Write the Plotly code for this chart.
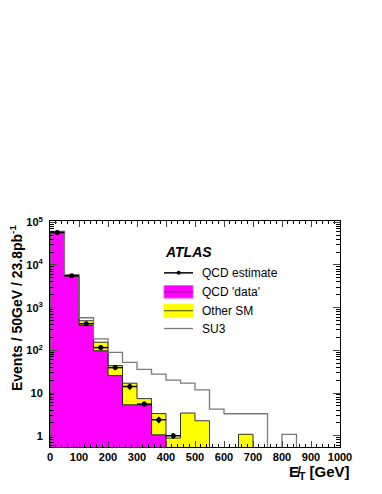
import plotly.graph_objects as go

# 50 GeV bins, 0-1000 GeV
bin_edges = list(range(0, 1001, 50))
bin_centers = [e + 25 for e in bin_edges[:-1]]

# QCD 'data' (magenta fill)
qcd_data = [57000, 5560, 386, 98, 25.6, 5.3, 5.3, 1.05, 0, 0,
            0, 0, 0, 0, 0, 0, 0, 0, 0, 0]
# top of the QCD + Other SM stack (yellow fill)
other_sm_stack = [57000, 5560, 494, 155, 44, 17, 7.4, 3.3, 0.88, 3.4,
                  2.24, 0, 0, 1.08, 0, 0, 0, 0, 0, 0]
# SU3 stacked on top (grey line)
su3_stack = [61000, 5900, 580, 185, 90, 52, 36, 27.6, 20, 17,
             11.9, 4.2, 3.27, 3.27, 3.27, 0, 1.08, 0, 0, 0]
# QCD estimate points and errors (first 9 bins)
est_x = bin_centers[:9]
est_y = [58000, 5600, 421, 116, 39.4, 14.2, 5.5, 2.37, 1.0]
est_err = [240, 75, 20, 10, 5, 2.3, 0.8, 0.4, 0.15]

y_ticks = [1, 10, 100, 1000, 10000, 100000]
y_ticktext = ["1", "10", "10<sup>2</sup>", "10<sup>3</sup>", "10<sup>4</sup>", "10<sup>5</sup>"]
x_ticks = list(range(0, 1001, 100))

FLOOR = 1e-2
FONT = "Liberation Sans, Arial, sans-serif"


def step_xy(values):
    """Histogram outline as an hv step path that drops to the floor at the ends."""
    xs = [bin_edges[0]] + bin_edges
    ys = [FLOOR] + [v if v > 0 else FLOOR for v in values] + [FLOOR]
    return xs, ys


fig = go.Figure()

fig.add_trace(go.Bar(x=bin_centers, y=[v if v > 0 else None for v in other_sm_stack],
                     width=50, marker=dict(color="#ffff00", line=dict(width=0))))
fig.add_trace(go.Bar(x=bin_centers, y=[v if v > 0 else None for v in qcd_data],
                     width=50, marker=dict(color="#ff00ff", line=dict(width=0))))

for vals, col, w in [(other_sm_stack, "#333333", 1), (qcd_data, "#222222", 1),
                     (su3_stack, "#7a7a7a", 1.3)]:
    sx, sy = step_xy(vals)
    fig.add_trace(go.Scatter(x=sx, y=sy, mode="lines", line_shape="hv",
                             line=dict(color=col, width=w)))

fig.add_trace(go.Scatter(
    x=est_x, y=est_y, mode="markers",
    marker=dict(color="black", size=5),
    error_x=dict(type="constant", value=25, color="black", thickness=1.5, width=0),
    error_y=dict(type="data", array=est_err, color="black", thickness=1.5, width=0),
))

minor_y = [m * 10 ** k for k in range(-1, 6) for m in range(2, 10)]

# page body has an 8px margin, so the figure is 8px smaller and shifted
fig.update_layout(
    width=374, height=486,
    margin=dict(l=42, r=42, t=213, b=47),
    paper_bgcolor="white", plot_bgcolor="white",
    barmode="overlay", bargap=0, showlegend=False,
    font=dict(family=FONT, color="black"),
)
fig.update_xaxes(
    range=[0, 1000], tickvals=x_ticks, ticks="inside", ticklen=6,
    showgrid=False, zeroline=False, showline=True, linecolor="black",
    linewidth=1, mirror="allticks",
    tickfont=dict(size=11, weight="bold"),
    minor=dict(ticks="inside", dtick=20, ticklen=3, tickcolor="black"),
)
fig.update_yaxes(
    type="log", range=[-0.264, 5.03], tickvals=y_ticks, ticktext=y_ticktext,
    ticks="inside", ticklen=7, showgrid=False, zeroline=False, showline=True,
    linecolor="black", linewidth=1, mirror="allticks", ticklabelstandoff=4,
    tickfont=dict(size=11, weight="bold"),
    minor=dict(ticks="inside", tickvals=minor_y, ticklen=4, tickcolor="black"),
)

# page pixel -> paper helpers
def px(x):
    return (x - 50) / 290.0


def py(y):
    return (447.3 - y) / 226.6


fig.add_annotation(text="<b>Events / 50GeV / 23.8pb<sup>-1</sup></b>", textangle=-90,
                   x=px(5), y=py(308), xref="paper", yref="paper",
                   showarrow=False, font=dict(size=14))
fig.add_annotation(text="<b>E\u0338<sub>T</sub> [GeV]</b>", x=px(287), y=py(473),
                   xref="paper", yref="paper", xanchor="left", yanchor="middle",
                   showarrow=False, font=dict(size=15))
fig.add_annotation(text="<b><i>ATLAS</i></b>", x=px(163), y=py(252),
                   xref="paper", yref="paper", xanchor="left", yanchor="middle",
                   showarrow=False, font=dict(size=14))

# legend drawn by hand, ROOT style
legend_rows = [("QCD estimate", 272.7), ("QCD 'data'", 291.7),
               ("Other SM", 310.7), ("SU3", 328.5)]
for label, yy in legend_rows:
    fig.add_annotation(text=label, x=px(200), y=py(yy), xref="paper", yref="paper",
                       xanchor="left", yanchor="middle", showarrow=False,
                       font=dict(size=12))

x0, x1 = px(164), px(193)
# QCD estimate: line + dot
fig.add_shape(type="line", xref="paper", yref="paper", x0=x0, x1=x1,
              y0=py(272.7), y1=py(272.7), line=dict(color="black", width=1.5))
fig.add_shape(type="circle", xref="paper", yref="paper",
              x0=px(176.7), x1=px(180.7), y0=py(274.7), y1=py(270.7),
              fillcolor="black", line=dict(width=0))
# QCD 'data': magenta box
fig.add_shape(type="rect", xref="paper", yref="paper", x0=x0, x1=x1,
              y0=py(298), y1=py(285.4), fillcolor="#ff00ff",
              line=dict(color="#ff55ff", width=1))
fig.add_shape(type="line", xref="paper", yref="paper", x0=x0, x1=x1,
              y0=py(291.7), y1=py(291.7), line=dict(color="#662266", width=1))
# Other SM: yellow box
fig.add_shape(type="rect", xref="paper", yref="paper", x0=x0, x1=x1,
              y0=py(317.3), y1=py(304.2), fillcolor="#ffff00",
              line=dict(color="#ffff00", width=1))
fig.add_shape(type="line", xref="paper", yref="paper", x0=x0, x1=x1,
              y0=py(310.7), y1=py(310.7), line=dict(color="#444400", width=1))
# SU3: grey line
fig.add_shape(type="line", xref="paper", yref="paper", x0=x0, x1=x1,
              y0=py(328.5), y1=py(328.5), line=dict(color="#7a7a7a", width=1.3))

fig.write_html("out.html")
